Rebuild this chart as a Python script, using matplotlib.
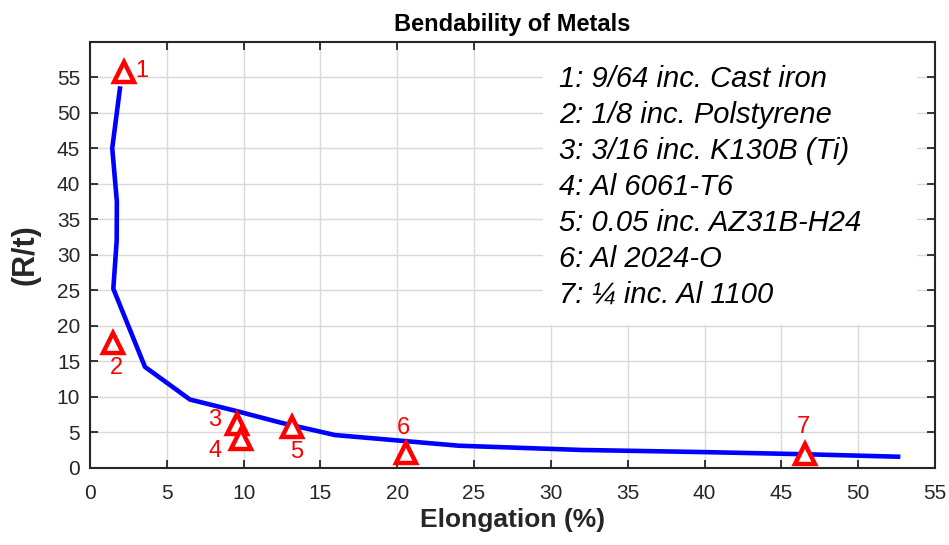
import matplotlib
matplotlib.use('Agg')
import matplotlib.pyplot as plt
from matplotlib.patches import Rectangle

plt.rcParams['font.family'] = ['Liberation Sans', 'DejaVu Sans']

# Bend-limit curve: minimum bend ratio R/t vs tensile elongation
curve_elong = [1.95, 1.45, 1.75, 1.74, 1.52, 3.58, 6.51, 9.5, 12.5, 15.95, 24.0, 32.0, 40.0, 46.5, 52.6]
curve_rt = [53.4, 45.0, 37.5, 32.0, 25.2, 14.2, 9.6, 8.0, 6.3, 4.6, 3.1, 2.5, 2.2, 1.9, 1.55]

# Measured materials
mat_ids = ['1', '2', '3', '4', '5', '6', '7']
mat_elong = [2.2, 1.52, 9.59, 9.83, 13.13, 20.55, 46.55]
mat_rt = [55.7, 17.5, 6.2, 4.1, 5.8, 2.1, 2.0]
mat_names = ['9/64 inc. Cast iron', '1/8 inc. Polstyrene', '3/16 inc. K130B (Ti)',
             'Al 6061-T6', '0.05 inc. AZ31B-H24', 'Al 2024-O', '\u00bc inc. Al 1100']

# label offsets in points (dx, dy) for each marker number
label_off = [(13, 1), (2.4, -17.8), (-16, 2.4), (-18.7, -9), (3.8, -18), (-1.5, 18), (-1.5, 19)]

xticks = list(range(0, 56, 5))
yticks = list(range(0, 56, 5))

fig = plt.figure(figsize=(9.49, 5.45), dpi=100)
ax = fig.add_axes([0.0948, 0.1418, 0.8904, 0.7817])

ax.plot(curve_elong, curve_rt, color='#0000ff', linewidth=3.3, zorder=3)
ax.plot(mat_elong, mat_rt, linestyle='none', marker='^', markersize=14,
        markerfacecolor='white', markeredgecolor='#ff0000', markeredgewidth=3.2, zorder=4)

for lab, x, y, (dx, dy) in zip(mat_ids, mat_elong, mat_rt, label_off):
    ax.annotate(lab, (x, y), textcoords='offset points', xytext=(dx, dy),
                ha='center', va='center', fontsize=17, color='#ff0000', zorder=5)

# white legend panel in the upper right
ax.add_patch(Rectangle((0.536, 0.335), 0.443, 0.665, transform=ax.transAxes,
                       facecolor='white', edgecolor='none', zorder=2.5))
for i, (n_id, name) in enumerate(zip(mat_ids, mat_names)):
    ax.text(0.555, 0.894 - 0.0845 * i, f'{n_id}: {name}', transform=ax.transAxes,
            ha='left', va='baseline', fontsize=21, style='italic', color='black', zorder=6)

ax.set_xlim(0, 55)
ax.set_ylim(0, 60)
ax.set_xticks(xticks)
ax.set_yticks(yticks)
ax.grid(True, color='#d9d9d9', linewidth=1.0)
ax.set_axisbelow(True)
ax.tick_params(direction='in', length=6, width=1.3, colors='#262626', labelsize=15,
               top=True, right=True)
ax.tick_params(axis='x', pad=12)
ax.tick_params(axis='y', pad=7)
for sp in ax.spines.values():
    sp.set_linewidth(1.5)
    sp.set_color('#262626')

ax.set_title('Bendability of Metals', fontsize=17, fontweight='bold', color='black', pad=8)
ax.set_xlabel('Elongation (%)', fontsize=19, fontweight='bold', color='#262626', labelpad=3)
ax.set_ylabel('(R/t)', fontsize=22, fontweight='bold', color='#262626', labelpad=12)

fig.savefig('out.png', dpi=100, facecolor='white')
